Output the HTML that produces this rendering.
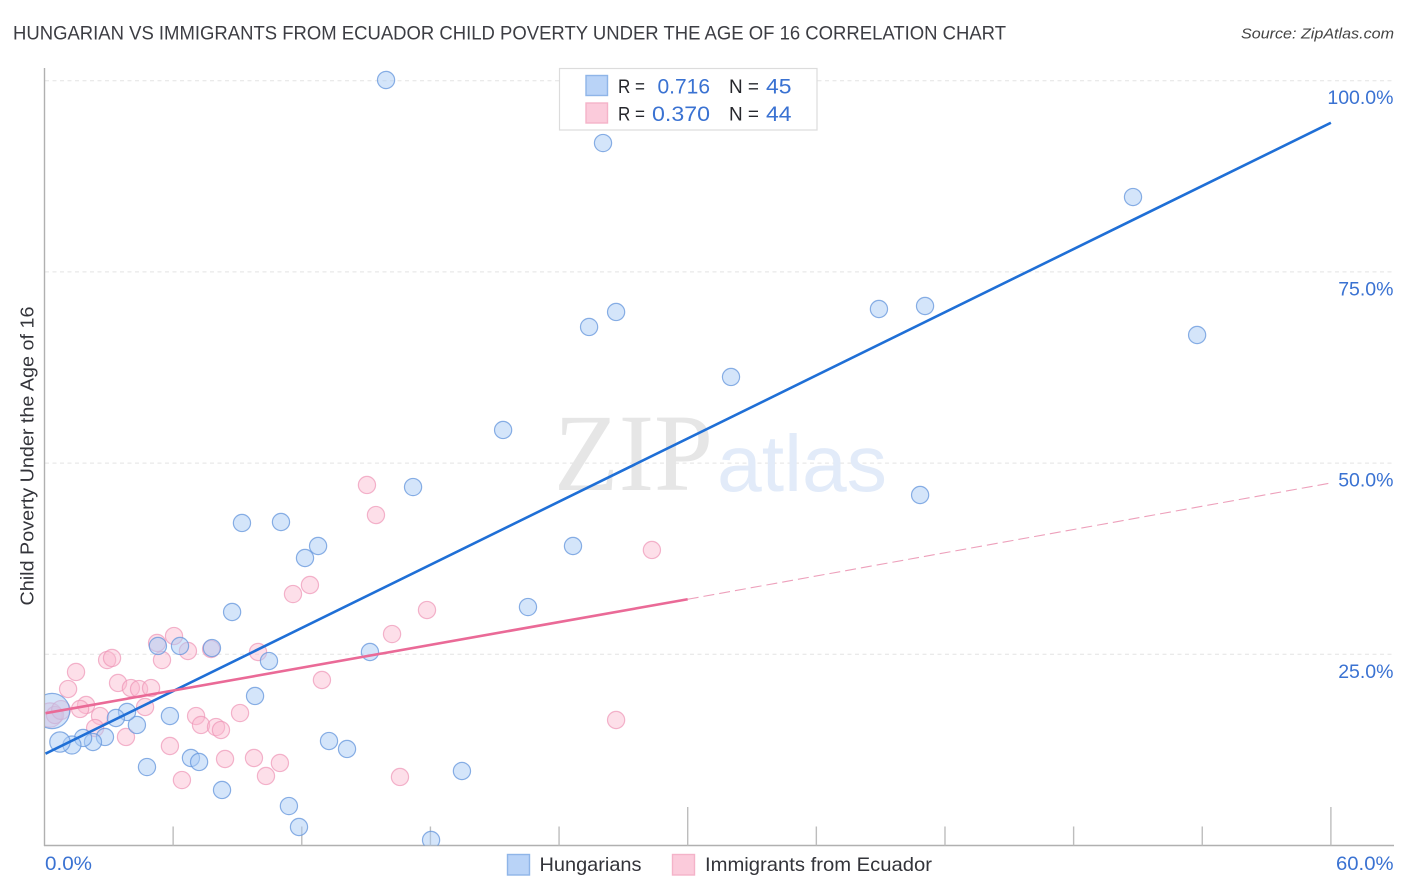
<!DOCTYPE html>
<html lang="en">
<head>
<meta charset="utf-8">
<title>Hungarian vs Immigrants from Ecuador Child Poverty Correlation Chart</title>
<style>
html,body{margin:0;padding:0;background:#fff;}
svg{display:block;font-family:"Liberation Sans",sans-serif;}
</style>
</head>
<body>
<svg id="chart" xmlns="http://www.w3.org/2000/svg" width="1406" height="892" viewBox="0 0 1406 892">
  <defs>
    <clipPath id="plot-clip"><rect x="45" y="60" width="1350" height="785.5"/></clipPath>
  </defs>
  <text x="13" y="39.5" font-size="19.5" fill="#3c3d43" textLength="993" lengthAdjust="spacingAndGlyphs">HUNGARIAN VS IMMIGRANTS FROM ECUADOR CHILD POVERTY UNDER THE AGE OF 16 CORRELATION CHART</text>
  <text x="1394" y="38.5" font-size="15" font-style="italic" fill="#444" text-anchor="end" textLength="153" lengthAdjust="spacingAndGlyphs">Source: ZipAtlas.com</text>

  <g id="grid"></g>

  <g>
    <text x="554" y="490" font-family="'Liberation Serif',serif" font-size="110" fill="#e6e6e6" textLength="159" lengthAdjust="spacingAndGlyphs">ZIP</text>
    <text x="717" y="491" font-size="80" fill="#e2ebf9" textLength="170" lengthAdjust="spacingAndGlyphs">atlas</text>
  </g>

  <g id="axes"></g>
  <g id="pink-points" clip-path="url(#plot-clip)"></g>
  <g id="blue-points" clip-path="url(#plot-clip)"></g>
  <g id="trends"></g>
  <g id="tick-labels"></g>

  <text transform="translate(33.5,605.5) rotate(-90)" font-size="18.5" fill="#33343a" textLength="299" lengthAdjust="spacingAndGlyphs">Child Poverty Under the Age of 16</text>

  <g>
    <rect x="559.5" y="68.5" width="257.5" height="61.5" fill="#fff" stroke="#dcdcdc" stroke-width="1.2"/>
    <rect x="586" y="75.5" width="21.5" height="20" fill="#b9d3f7" stroke="#8fb5e8" stroke-width="1.4"/>
    <rect x="586" y="103" width="21.5" height="20" fill="#fbcbdb" stroke="#f4b3c9" stroke-width="1.4"/>
    <text x="618" y="93" font-size="19" fill="#26272c" textLength="27" lengthAdjust="spacingAndGlyphs">R =</text>
    <text x="657.5" y="93.5" font-size="21.5" fill="#3a72d2" textLength="52.5" lengthAdjust="spacingAndGlyphs">0.716</text>
    <text x="729" y="93" font-size="19" fill="#26272c" textLength="30" lengthAdjust="spacingAndGlyphs">N =</text>
    <text x="766" y="93.5" font-size="21.5" fill="#3a72d2" textLength="25.5" lengthAdjust="spacingAndGlyphs">45</text>
    <text x="618" y="120.5" font-size="19" fill="#26272c" textLength="27" lengthAdjust="spacingAndGlyphs">R =</text>
    <text x="652" y="121" font-size="21.5" fill="#3a72d2" textLength="58" lengthAdjust="spacingAndGlyphs">0.370</text>
    <text x="729" y="120.5" font-size="19" fill="#26272c" textLength="30" lengthAdjust="spacingAndGlyphs">N =</text>
    <text x="766" y="121" font-size="21.5" fill="#3a72d2" textLength="25.5" lengthAdjust="spacingAndGlyphs">44</text>
  </g>

  <g>
    <g>
      <rect x="507.5" y="854.5" width="22" height="20.5" fill="#b9d3f7" stroke="#8fb5e8" stroke-width="1.4"/>
      <text x="539.5" y="871" font-size="19.5" fill="#33343a" textLength="102" lengthAdjust="spacingAndGlyphs">Hungarians</text>
    </g>
    <g>
      <rect x="672.5" y="854.5" width="22" height="20.5" fill="#fbcbdb" stroke="#f4b3c9" stroke-width="1.4"/>
      <text x="705" y="871" font-size="19.5" fill="#33343a" textLength="227" lengthAdjust="spacingAndGlyphs">Immigrants from Ecuador</text>
    </g>
  </g>
</svg>

<script>
const xTickValues = [0, 6, 12, 18, 24, 30, 36, 42, 48, 54, 60];
const xMajorTicks = [30, 60];
const yGridValues = [25, 50, 75, 100];
const yTickLabels = ["25.0%", "50.0%", "75.0%", "100.0%"];
const xEndLabels = ["0.0%", "60.0%"];

const hungarianX = [15.93,26.05,50.77,53.76,41.07,38.92,26.66,25.40,32.02,21.39,17.19,40.84,9.21,11.03,12.76,12.15,24.65,22.55,8.75,5.29,6.32,7.81,15.18,10.47,9.82,5.85,4.31,3.85,3.33,2.82,2.26,1.80,1.28,0.72,0.35,4.78,6.83,7.21,8.28,11.40,11.87,13.27,14.11,19.47,18.03];
const hungarianY = [100.09,91.85,84.79,66.75,70.54,70.15,69.76,67.80,61.26,54.33,46.87,45.83,42.17,42.30,39.16,37.59,39.16,31.18,30.53,26.09,26.09,25.82,25.30,24.12,19.55,16.93,15.76,17.46,16.67,14.19,13.53,14.06,13.14,13.53,17.59,10.26,11.44,10.92,7.26,5.16,2.42,13.66,12.62,9.74,0.72];
const hungarianWeight = [1,1,1,1,1,1,1,1,1,1,1,1,1,1,1,1,1,1,1,1,1,1,1,1,1,1,1,1,1,1,1,1,1.1,1.4,4.2,1,1,1,1,1,1,1,1,1,1];

const ecuadorX = [15.04,15.46,28.33,12.38,11.59,17.84,16.21,5.25,6.04,6.69,7.77,5.48,9.96,2.92,3.15,1.47,1.10,12.94,3.43,4.03,4.41,4.97,1.94,1.66,4.69,9.12,7.07,7.30,8.00,8.23,2.59,2.36,3.80,5.85,8.42,9.77,10.98,10.33,6.41,16.58,26.66,0.26,0.49,0.77];
const ecuadorY = [47.14,43.21,38.64,34.06,32.88,30.79,27.65,26.48,27.39,25.43,25.69,24.25,25.30,24.25,24.52,22.69,20.46,21.64,21.25,20.59,20.46,20.59,18.37,17.85,18.11,17.32,16.93,15.76,15.49,15.10,16.93,15.36,14.19,13.01,11.31,11.44,10.79,9.09,8.56,8.96,16.41,17.06,17.06,17.72];
const ecuadorWeight = [1,1,1,1,1,1,1,1,1,1,1,1,1,1,1,1,1,1,1,1,1,1,1,1,1,1,1,1,1,1,1,1,1,1,1,1,1,1,1,1,1,2,1,1.2];

const hungarianTrendX = [0, 60];
const hungarianTrendY = [12.0, 94.5];
const ecuadorTrendX = [0, 30];
const ecuadorTrendY = [17.3, 32.2];
const ecuadorDashX = [30, 60];
const ecuadorDashY = [32.2, 47.4];

const NS = 'http://www.w3.org/2000/svg';
const sx = function (v) { return 44.5 + v * 21.44; };
const sy = function (v) { return 845.5 - v * 7.648; };

function make(parentId, tag, props, content) {
  const el = document.createElementNS(NS, tag);
  Object.keys(props).forEach(function (k) { el.setAttribute(k, props[k]); });
  if (content !== undefined) el.textContent = content;
  document.getElementById(parentId).appendChild(el);
  return el;
}

yGridValues.forEach(function (v) {
  const el = make('grid', 'line', {x1: 45, x2: 1393, y1: sy(v), y2: sy(v), stroke: '#e4e4e4', 'stroke-width': 1, 'stroke-dasharray': '4 3.5'});
  
  
});

const yAxisLine = make('axes', 'line', {x1: 44.5, x2: 44.5, y1: 68, y2: 846, stroke: '#b0b0b0', 'stroke-width': 1.4});


const xAxisLine = make('axes', 'line', {x1: 44, x2: 1394, y1: 845.5, y2: 845.5, stroke: '#b0b0b0', 'stroke-width': 1.4});



xTickValues.forEach(function (v) {
  if (v === 0) return;
  const top = xMajorTicks.indexOf(v) >= 0 ? 807 : 826.5;
  const el = make('axes', 'line', {x1: sx(v), x2: sx(v), y1: top, y2: 845.5, stroke: '#bdbdbd', 'stroke-width': 1.4});
  
  
});

hungarianX.forEach(function (v, i) {
  const el = make('blue-points', 'circle', {cx: sx(v), cy: sy(hungarianY[i]), r: 8.6 * Math.sqrt(hungarianWeight[i]), fill: 'rgba(170,203,245,0.5)', stroke: 'rgba(100,150,220,0.75)', 'stroke-width': 1.2});
  
  
});

ecuadorX.forEach(function (v, i) {
  const el = make('pink-points', 'circle', {cx: sx(v), cy: sy(ecuadorY[i]), r: 8.6 * Math.sqrt(ecuadorWeight[i]), fill: 'rgba(250,185,207,0.45)', stroke: 'rgba(238,150,182,0.7)', 'stroke-width': 1.2});
  
  
});

const blueTrend = make('trends', 'line', {x1: sx(hungarianTrendX[0]) + 1, x2: sx(hungarianTrendX[1]), y1: sy(hungarianTrendY[0]), y2: sy(hungarianTrendY[1]), stroke: '#1f6fd6', 'stroke-width': 2.6});


const pinkTrend = make('trends', 'line', {x1: sx(ecuadorTrendX[0]) + 1, x2: sx(ecuadorTrendX[1]), y1: sy(ecuadorTrendY[0]), y2: sy(ecuadorTrendY[1]), stroke: '#ea6a97', 'stroke-width': 2.6});


const pinkDash = make('trends', 'line', {x1: sx(ecuadorDashX[0]), x2: sx(ecuadorDashX[1]), y1: sy(ecuadorDashY[0]), y2: sy(ecuadorDashY[1]), stroke: '#eda0bb', 'stroke-width': 1.1, 'stroke-dasharray': '11 5'});



yGridValues.forEach(function (v, i) {
  const el = make('tick-labels', 'text', {x: 1393.5, y: sy(v) + 23.5, 'font-size': 19.5, fill: '#3a72d2', 'text-anchor': 'end'}, yTickLabels[i]);
  
  
});

const xLabelLeft = make('tick-labels', 'text', {x: 45, y: 870, 'font-size': 19.5, fill: '#3a72d2', textLength: 47, lengthAdjust: 'spacingAndGlyphs'}, xEndLabels[0]);


const xLabelRight = make('tick-labels', 'text', {x: 1336, y: 870, 'font-size': 19.5, fill: '#3a72d2', textLength: 57.5, lengthAdjust: 'spacingAndGlyphs'}, xEndLabels[1]);


</script>
</body>
</html>
